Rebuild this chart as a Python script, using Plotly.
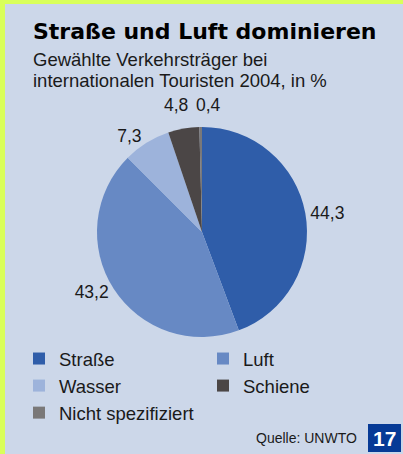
import math
import plotly.graph_objects as go

labels = ["Straße", "Luft", "Wasser", "Schiene", "Nicht spezifiziert"]
values = [44.3, 43.2, 7.3, 4.8, 0.4]
colors = ["#2F5DA9", "#6789C4", "#9DB3DB", "#4B4646", "#7A7878"]
label_mode = ["outside", "outside", "outside", "none", "none"]

title = "Straße und Luft dominieren"
subtitle = ["Gewählte Verkehrsträger bei", "internationalen Touristen 2004, in %"]
source = "Quelle: UNWTO"
page_no = "17"

W, H = 403, 454
CX, CY, R = 202, 232, 105  # pie centre / radius in pixels (layout only)

fig = go.Figure(go.Pie(
    labels=labels,
    values=values,
    sort=False,
    direction="clockwise",
    rotation=0,
    marker=dict(colors=colors, line=dict(width=0)),
    textposition=label_mode,
    texttemplate="%{value:.1f}",
    textfont=dict(family="Liberation Sans", size=17.5, color="#1a1a1a"),
    domain=dict(x=[(CX - 150) / W, (CX + 150) / W],
                y=[(H - CY - R) / H, (H - CY + R) / H]),
    hoverinfo="label+value",
))

# labels of the two thin slices, set side by side above the pie
total = sum(values)
annos = []
for i, dxs in [(3, -3), (4, 8)]:
    mid = (sum(values[:i]) + values[i] / 2) / total * 2 * math.pi
    px = CX + (R + 25) * math.sin(mid) + dxs
    annos.append(dict(text=f"{values[i]:.1f}".replace(".", ","), xref="paper", yref="paper",
                      x=px / W, y=1 - 105 / H, xanchor="center", yanchor="middle",
                      showarrow=False,
                      font=dict(size=17.5, family="Liberation Sans", color="#1a1a1a")))

annos += [
    dict(text="<b>" + title + "</b>", xref="paper", yref="paper",
         x=31 / W, y=1 - 41 / H, xanchor="left", yanchor="bottom", showarrow=False,
         yshift=-5,
         font=dict(size=22, family="DejaVu Sans", color="#000000")),
    dict(text=subtitle[0], xref="paper", yref="paper",
         x=31 / W, y=1 - 59.5 / H, xanchor="left", yanchor="middle", showarrow=False,
         font=dict(size=18.5, family="Liberation Sans", color="#1a1a1a")),
    dict(text=subtitle[1], xref="paper", yref="paper",
         x=31 / W, y=1 - 80.5 / H, xanchor="left", yanchor="middle", showarrow=False,
         font=dict(size=18.5, family="Liberation Sans", color="#1a1a1a")),
    dict(text=source, xref="paper", yref="paper",
         x=359 / W, y=1 - 438 / H, xanchor="right", yanchor="middle", showarrow=False,
         font=dict(size=14, family="Liberation Sans", color="#1a1a1a")),
    dict(text="<b>" + page_no + "</b>", xref="paper", yref="paper",
         x=384.5 / W, y=1 - 438 / H, xanchor="center", yanchor="middle", showarrow=False,
         font=dict(size=21, family="Liberation Sans", color="#FFFFFF")),
]

fig.update_layout(
    width=W, height=H,
    margin=dict(l=0, r=0, t=0, b=0, pad=0, autoexpand=False),
    paper_bgcolor="#D9FF5A",
    plot_bgcolor="#CCD7E9",
    separators=",.",
    font=dict(family="Liberation Sans", color="#1a1a1a"),
    showlegend=True,
    legend=dict(
        orientation="h",
        x=19 / W, xanchor="left",
        y=1 - 340 / H, yanchor="top",
        entrywidth=139, entrywidthmode="pixels",
        font=dict(size=18.5, family="Liberation Sans", color="#1a1a1a"),
        bgcolor="rgba(0,0,0,0)",
        itemclick=False, itemdoubleclick=False,
    ),
    shapes=[
        dict(type="rect", xref="paper", yref="paper", layer="below",
             x0=5 / W, x1=1, y0=0, y1=1 - 4 / H,
             fillcolor="#CCD7E9", line=dict(width=0)),
        dict(type="rect", xref="paper", yref="paper",
             x0=368 / W, x1=401 / W, y0=1 - 452 / H, y1=1 - 424 / H,
             fillcolor="#063A96", line=dict(width=0)),
    ],
    annotations=annos,
)

fig.write_html("out.html",
               config={"displayModeBar": False, "responsive": False},
               post_script="document.body.style.margin='0';document.body.style.overflow='hidden';")
